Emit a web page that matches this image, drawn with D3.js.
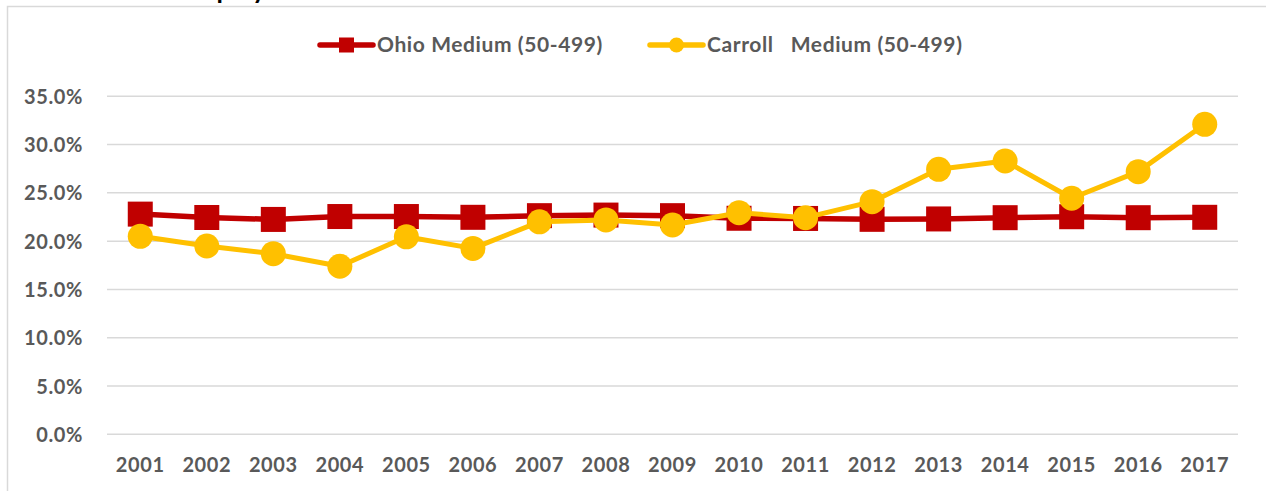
<!DOCTYPE html>
<html>
<head>
<meta charset="utf-8">
<script src="https://cdn.jsdelivr.net/npm/d3@7"></script>
<style>
  html, body { margin: 0; padding: 0; background: #fff; }
  svg { display: block; }
  text { font-family: Lato, "Open Sans", sans-serif; font-weight: 700; }
</style>
</head>
<body>
<svg id="chart" width="1266" height="491"></svg>
<script>
const years = ["2001","2002","2003","2004","2005","2006","2007","2008","2009","2010","2011","2012","2013","2014","2015","2016","2017"];
const ohioMedium = [0.228,0.2245,0.2225,0.2255,0.2255,0.2247,0.2264,0.227,0.2264,0.2237,0.2235,0.2226,0.223,0.2243,0.2253,0.2243,0.2247];
const carrollMedium = [0.205,0.195,0.187,0.174,0.2045,0.1925,0.220,0.222,0.2167,0.2295,0.2243,0.2409,0.2744,0.283,0.2444,0.272,0.321];
const yTicks = [0,0.05,0.10,0.15,0.20,0.25,0.30,0.35];
const seriesNames = ["Ohio Medium (50-499)", "Carroll   Medium (50-499)"];
const seriesColors = ["#C00000", "#FFC000"];

const svg = d3.select("#chart");
const W = 1266, H = 491;
const plotLeft = 107, plotRight = 1238, plotTop = 96.3, plotBottom = 434.3;

// chart area border
svg.append("rect")
  .attr("x", 7.5).attr("y", 6.5)
  .attr("width", W + 20).attr("height", H + 20)
  .attr("fill", "none").attr("stroke", "#D9D9D9").attr("stroke-width", 1.5);

// partially visible title (cut off at top, as in the reference)
svg.append("text")
  .attr("x", 180).attr("y", -1)
  .attr("font-size", 26).attr("fill", "#000")
  .text("Employment");

const x = d3.scaleBand().domain(years).range([plotLeft, plotRight]);
const y = d3.scaleLinear().domain([0, 0.35]).range([plotBottom, plotTop]);

// gridlines
svg.append("g").selectAll("line").data(yTicks).join("line")
  .attr("x1", plotLeft).attr("x2", plotRight)
  .attr("y1", d => y(d)).attr("y2", d => y(d))
  .attr("stroke", "#D9D9D9").attr("stroke-width", 1.5);

const labelStyle = sel => sel.attr("font-size", 20).attr("fill", "#595959")
  .style("font-family", "Lato, sans-serif").style("font-weight", 700)
  .style("letter-spacing", "0.6px").attr("dy", "0.35em");

// y axis labels
const yAxis = d3.axisLeft(y).tickValues(yTicks).tickFormat(d3.format(".1%")).tickSize(0).tickPadding(0);
const gy = svg.append("g").attr("transform", `translate(83,0)`).call(yAxis);
gy.select(".domain").remove();
gy.selectAll("text").call(labelStyle);

// x axis labels
const xAxis = d3.axisBottom(x).tickSize(0).tickPadding(0);
const gx = svg.append("g").attr("transform", `translate(0,465)`).call(xAxis);
gx.select(".domain").remove();
gx.selectAll("text").call(labelStyle);

const cx = d => x(d) + x.bandwidth() / 2;
const line = d3.line().x(d => cx(d.year)).y(d => y(d.v));

const ohioData = years.map((yr, i) => ({year: yr, v: ohioMedium[i]}));
const carrollData = years.map((yr, i) => ({year: yr, v: carrollMedium[i]}));

// Ohio series
svg.append("path").datum(ohioData)
  .attr("d", line).attr("fill", "none")
  .attr("stroke", seriesColors[0]).attr("stroke-width", 5.5).attr("stroke-linejoin", "round");
const sq = 25;
svg.append("g").selectAll("rect").data(ohioData).join("rect")
  .attr("x", d => cx(d.year) - sq / 2).attr("y", d => y(d.v) - sq / 2)
  .attr("width", sq).attr("height", sq).attr("fill", seriesColors[0]);

// Carroll series
svg.append("path").datum(carrollData)
  .attr("d", line).attr("fill", "none")
  .attr("stroke", seriesColors[1]).attr("stroke-width", 5).attr("stroke-linejoin", "round");
svg.append("g").selectAll("circle").data(carrollData).join("circle")
  .attr("cx", d => cx(d.year)).attr("cy", d => y(d.v))
  .attr("r", 12.5).attr("fill", seriesColors[1]);

// legend
const legendY = 45;
const lg = svg.append("g");
// Ohio
lg.append("line").attr("x1", 320).attr("x2", 373).attr("y1", legendY).attr("y2", legendY)
  .attr("stroke", seriesColors[0]).attr("stroke-width", 5.5).attr("stroke-linecap", "round");
lg.append("rect").attr("x", 346.5 - 7.5).attr("y", legendY - 7.5).attr("width", 15).attr("height", 15)
  .attr("fill", seriesColors[0]);
lg.append("text").attr("x", 377).attr("y", legendY).attr("dy", "0.35em")
  .attr("font-size", 21).attr("fill", "#595959").style("letter-spacing", "0.6px")
  .style("white-space", "pre").text(seriesNames[0]);
// Carroll
lg.append("line").attr("x1", 650).attr("x2", 703).attr("y1", legendY).attr("y2", legendY)
  .attr("stroke", seriesColors[1]).attr("stroke-width", 5.5).attr("stroke-linecap", "round");
lg.append("circle").attr("cx", 676.5).attr("cy", legendY).attr("r", 7.5)
  .attr("fill", seriesColors[1]);
lg.append("text").attr("x", 707).attr("y", legendY).attr("dy", "0.35em")
  .attr("font-size", 21).attr("fill", "#595959").style("letter-spacing", "0.6px")
  .style("white-space", "pre").text(seriesNames[1]);
</script>
</body>
</html>
